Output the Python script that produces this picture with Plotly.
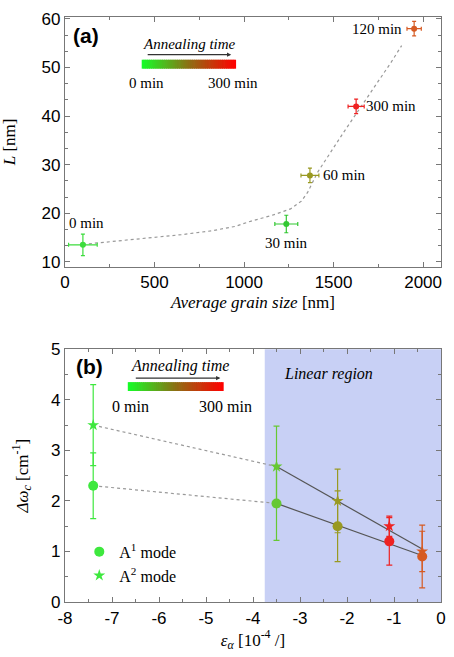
import plotly.graph_objects as go

# ---------------- Panel (a) data ----------------
a_labels = ["0 min", "30 min", "60 min", "300 min", "120 min"]
a_x = [100, 1236, 1368, 1626, 1950]
a_y = [13.5, 17.8, 27.8, 42.0, 58.0]
a_xerr = [80, 64, 50, 45, 40]
a_yerr = [2.2, 1.8, 1.5, 1.5, 1.5]
a_colors = ["#3ddc3d", "#33c833", "#999922", "#ee2222", "#d65a22"]
a_label_dx = [4, 0, 35, 35, -37]
a_label_dy = [22, -19, 0, 0, 0]

fit_x = [100, 180, 300, 475, 650, 820, 950, 1040, 1150, 1260, 1320, 1355, 1380, 1410, 1555, 1700, 1820, 1880]
fit_y = [13.6, 13.9, 14.2, 14.9, 15.6, 16.4, 17.3, 18.4, 19.5, 20.9, 22.5, 24.3, 26.2, 28.4, 36.6, 44.4, 51.0, 54.5]

# ---------------- Panel (b) data ----------------
b_x = [-7.4, -3.5, -2.2, -1.1, -0.4]
a1_y = [2.3, 1.95, 1.5, 1.2, 0.9]
a1_err = [0.65, 0.73, 0.7, 0.47, 0.62]
a2_y = [3.5, 2.68, 2.0, 1.5, 1.0]
a2_err = [0.8, 0.8, 0.63, 0.2, 0.4]
b_colors = ["#3ee83e", "#66c833", "#999922", "#ee2222", "#d65a22"]

dot1_x = [-7.4, -3.5]
dot1_y = [2.3, 1.95]
dot2_x = [-7.4, -3.5]
dot2_y = [3.5, 2.68]
lin1_x = [-3.5, -0.4]
lin1_y = [1.95, 0.92]
lin2_x = [-3.5, -0.4]
lin2_y = [2.68, 1.05]
linear_region = [-3.75, 0]

b_xtick_vals = [-8, -7, -6, -5, -4, -3, -2, -1, 0]
b_xtick_text = ["-8", "-7", "-6", "-5", "-4", "-3", "-2", "-1", "0"]

SERIF = "Liberation Serif, Times New Roman, serif"
SANS = "Liberation Sans, Arial, sans-serif"

fig = go.Figure()

# fit curve (a)
fig.add_trace(go.Scatter(x=fit_x, y=fit_y, mode="lines", xaxis="x", yaxis="y",
                         line=dict(color="#999999", width=1.2, dash="dot"),
                         showlegend=False, hoverinfo="skip"))
for i in range(len(a_x)):
    fig.add_trace(go.Scatter(
        x=[a_x[i]], y=[a_y[i]], mode="markers", xaxis="x", yaxis="y",
        marker=dict(color=a_colors[i], size=6),
        error_x=dict(type="data", array=[a_xerr[i]], color=a_colors[i], thickness=1.2, width=2),
        error_y=dict(type="data", array=[a_yerr[i]], color=a_colors[i], thickness=1.2, width=2),
        showlegend=False))
    fig.add_annotation(x=a_x[i], y=a_y[i], xref="x", yref="y", text=a_labels[i],
                       showarrow=False, xshift=a_label_dx[i], yshift=a_label_dy[i],
                       xanchor="center", yanchor="middle",
                       font=dict(family=SERIF, size=15, color="black"))

# panel (b) lines
for xs, ys, dash, col in [(dot1_x, dot1_y, "dot", "#999999"), (dot2_x, dot2_y, "dot", "#999999"),
                          (lin1_x, lin1_y, "solid", "#555555"), (lin2_x, lin2_y, "solid", "#555555")]:
    fig.add_trace(go.Scatter(x=xs, y=ys, mode="lines", xaxis="x2", yaxis="y2",
                             line=dict(color=col, width=1.2, dash=dash),
                             showlegend=False, hoverinfo="skip"))

for i in range(len(b_x)):
    fig.add_trace(go.Scatter(
        x=[b_x[i]], y=[a1_y[i]], mode="markers", xaxis="x2", yaxis="y2",
        marker=dict(color=b_colors[i], size=10, symbol="circle"),
        error_y=dict(type="data", array=[a1_err[i]], color=b_colors[i], thickness=1.2, width=3),
        name="A<sup>1</sup> mode", legendrank=1, showlegend=(i == 0)))
for i in range(len(b_x)):
    fig.add_trace(go.Scatter(
        x=[b_x[i]], y=[a2_y[i]], mode="markers", xaxis="x2", yaxis="y2",
        marker=dict(color=b_colors[i], size=9, symbol="star"),
        error_y=dict(type="data", array=[a2_err[i]], color=b_colors[i], thickness=1.2, width=3),
        name="A<sup>2</sup> mode", legendrank=2, showlegend=(i == 0)))

# linear region
fig.add_shape(type="rect", xref="x2", yref="y2 domain", x0=linear_region[0], x1=linear_region[1],
              y0=0, y1=1, fillcolor="rgb(200,208,245)", line=dict(width=0), layer="below")


def grad_color(t):
    stops = [(0.0, (20, 255, 40)), (0.5, (140, 112, 20)), (1.0, (255, 0, 0))]
    for (t0, c0), (t1, c1) in zip(stops[:-1], stops[1:]):
        if t <= t1:
            f = (t - t0) / (t1 - t0)
            return "rgb(%d,%d,%d)" % tuple(round(c0[k] + f * (c1[k] - c0[k])) for k in range(3))
    return "rgb(255,0,0)"


def legend_bar(xr, yr, x0, x1, y0, y1, n=50):
    for k in range(n):
        t = (k + 0.5) / n
        fig.add_shape(type="rect", xref=xr, yref=yr,
                      x0=x0 + (x1 - x0) * k / n, x1=x0 + (x1 - x0) * (k + 1) / n + 0.002,
                      y0=y0, y1=y1, fillcolor=grad_color(t), line=dict(width=0))


legend_bar("x domain", "y domain", 0.204, 0.453, 0.793, 0.829)
legend_bar("x2 domain", "y2 domain", 0.167, 0.420, 0.835, 0.870)


def txt(xr, yr, x, y, s, size=15, fam=SERIF):
    fig.add_annotation(xref=xr, yref=yr, x=x, y=y, text=s, showarrow=False,
                       xanchor="center", yanchor="middle",
                       font=dict(family=fam, size=size, color="black"))


txt("x domain", "y domain", 0.055, 0.924, "<b>(a)</b>", size=21, fam=SANS)
txt("x domain", "y domain", 0.330, 0.892, "<i>Annealing time</i>", size=15)
txt("x domain", "y domain", 0.217, 0.737, "0 min", size=15)
txt("x domain", "y domain", 0.448, 0.737, "300 min", size=15)
txt("x2 domain", "y2 domain", 0.065, 0.933, "<b>(b)</b>", size=21, fam=SANS)
txt("x2 domain", "y2 domain", 0.305, 0.933, "<i>Annealing time</i>", size=16)
txt("x2 domain", "y2 domain", 0.175, 0.772, "0 min", size=16)
txt("x2 domain", "y2 domain", 0.426, 0.772, "300 min", size=16)
txt("x2 domain", "y2 domain", 0.700, 0.902, "<i>Linear region</i>", size=16)

fig.add_annotation(xref="x domain", yref="y domain", x=0.442, y=0.849, ax=-85, ay=0,
                   axref="pixel", ayref="pixel", showarrow=True, arrowhead=2, arrowsize=0.7,
                   arrowwidth=1.2, arrowcolor="#333333", text="")
fig.add_annotation(xref="x2 domain", yref="y2 domain", x=0.413, y=0.886, ax=-86, ay=0,
                   axref="pixel", ayref="pixel", showarrow=True, arrowhead=2, arrowsize=0.7,
                   arrowwidth=1.2, arrowcolor="#333333", text="")

axis_common = dict(showline=True, linecolor="#777777", linewidth=1.2, mirror="allticks",
                   ticks="inside", ticklen=5, tickcolor="#777777", showgrid=False, zeroline=False,
                   tickfont=dict(family=SANS, size=17, color="black"))
title_font = dict(family=SERIF, size=17, color="black")

fig.update_layout(
    width=454, height=657, paper_bgcolor="white", plot_bgcolor="white",
    margin=dict(l=64, r=8, t=14, b=55),
    xaxis=dict(domain=[0, 1], anchor="y", range=[0, 2100], dtick=500, tick0=0,
               minor=dict(dtick=250, ticks="inside", ticklen=3, tickcolor="#777777"),
               title=dict(text="<i>Average grain size</i> [nm]", font=title_font, standoff=4),
               **axis_common),
    yaxis=dict(domain=[0.5731, 1], anchor="x", range=[9, 60.4], dtick=10, tick0=0,
               minor=dict(dtick=10 / 3, ticks="inside", ticklen=3, tickcolor="#777777"),
               title=dict(text="<i>L</i> [nm]", font=title_font, standoff=22),
               **axis_common),
    xaxis2=dict(domain=[0, 1], anchor="y2", range=[-8, 0],
                tickvals=b_xtick_vals, ticktext=b_xtick_text,
                minor=dict(dtick=0.5, ticks="inside", ticklen=3, tickcolor="#777777"),
                title=dict(text="<i>ε<sub>α</sub></i> [10<sup>-4</sup> /]", font=title_font, standoff=6),
                **axis_common),
    yaxis2=dict(domain=[0, 0.432], anchor="x2", range=[0, 5], dtick=1, tick0=0,
                minor=dict(dtick=0.5, ticks="inside", ticklen=3, tickcolor="#777777"),
                title=dict(text="<i>Δω<sub>c</sub></i> [cm<sup>-1</sup>]", font=title_font, standoff=18),
                **axis_common),
    legend=dict(x=0.038, y=0.115, xanchor="left", yanchor="top", bgcolor="rgba(0,0,0,0)",
                font=dict(family=SERIF, size=16, color="black"), tracegroupgap=0),
)

fig.write_html("out.html")
